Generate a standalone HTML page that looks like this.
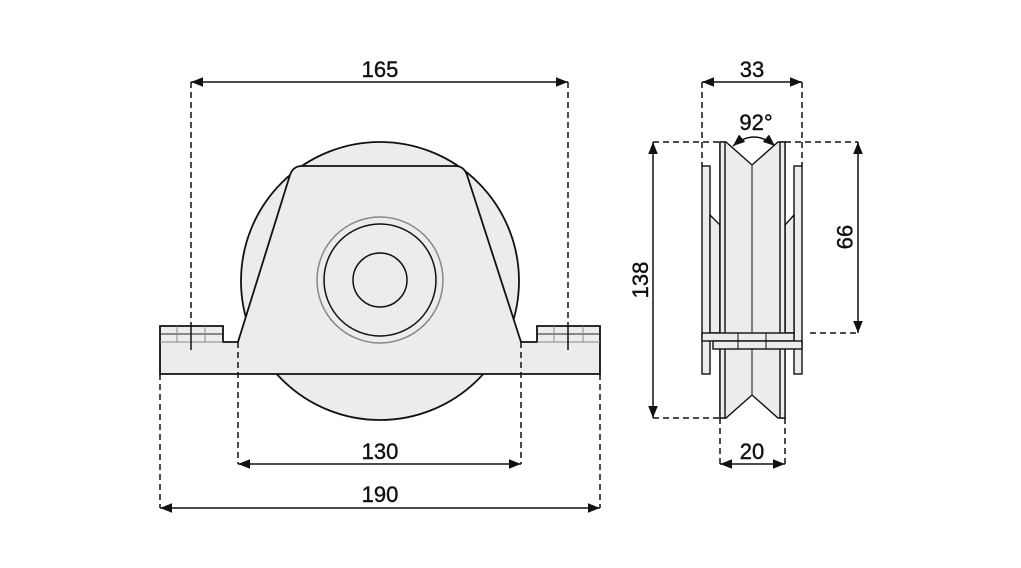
<!DOCTYPE html>
<html><head><meta charset="utf-8"><style>
html,body{margin:0;padding:0;background:#fff;}
svg{display:block;}
text{font-family:"Liberation Sans Narrow","Liberation Sans",sans-serif;font-size:22px;fill:#111;text-anchor:middle;stroke:#111;stroke-width:0.4;}
</style></head><body>
<svg width="1021" height="568" viewBox="0 0 1021 568" xmlns="http://www.w3.org/2000/svg">
<defs>
<marker id="a" viewBox="0 0 10 10" refX="10" refY="5" markerWidth="8" markerHeight="8" orient="auto-start-reverse"><path d="M0,1 L10,5 L0,9 z" fill="#111"/></marker>
</defs>
<g stroke="#111" stroke-width="1.8" fill="#ececec">
<circle cx="380" cy="281" r="139"/>
<path d="M160,326 H223 V342 H238 L290,175 Q293,166 302,166 H455 Q464,166 467,175 L521,342 H537 V326 H600 V374 H160 Z"/>
</g>
<g fill="none">
<line x1="160" y1="334" x2="223" y2="334" stroke="#222" stroke-width="1"/>
<line x1="537" y1="334" x2="600" y2="334" stroke="#222" stroke-width="1"/>
<line x1="160" y1="342" x2="223" y2="342" stroke="#888" stroke-width="1"/>
<line x1="537" y1="342" x2="600" y2="342" stroke="#888" stroke-width="1"/>
<g stroke="#888" stroke-width="1"><line x1="177" y1="326" x2="177" y2="342"/><line x1="205" y1="326" x2="205" y2="342"/><line x1="554" y1="326" x2="554" y2="342"/><line x1="583" y1="326" x2="583" y2="342"/></g>
<line x1="191" y1="326" x2="191" y2="350" stroke="#111" stroke-width="1.5"/>
<line x1="568" y1="326" x2="568" y2="350" stroke="#111" stroke-width="1.5"/>
<circle cx="380" cy="280" r="63" stroke="#888" stroke-width="1.5"/>
<circle cx="380" cy="280" r="56" stroke="#111" stroke-width="1.5"/>
<circle cx="380" cy="280" r="27" stroke="#111" stroke-width="1.5"/>
</g>
<g stroke="#111" stroke-width="1.5" stroke-dasharray="6,4" fill="none">
<line x1="191" y1="82" x2="191" y2="326"/><line x1="568" y1="82" x2="568" y2="326"/>
<line x1="238" y1="342" x2="238" y2="464"/><line x1="521" y1="342" x2="521" y2="464"/>
<line x1="160" y1="374" x2="160" y2="508"/><line x1="600" y1="374" x2="600" y2="508"/>
<line x1="702" y1="82" x2="702" y2="166"/><line x1="802" y1="82" x2="802" y2="166"/>
<line x1="653" y1="142" x2="720" y2="142"/><line x1="653" y1="418" x2="720" y2="418"/>
<line x1="785" y1="142" x2="858" y2="142"/><line x1="810" y1="333" x2="858" y2="333"/>
<line x1="720" y1="418" x2="720" y2="464"/><line x1="785" y1="418" x2="785" y2="464"/>
</g>
<g stroke="#111" stroke-width="1.5" fill="none" marker-start="url(#a)" marker-end="url(#a)">
<line x1="191" y1="82" x2="568" y2="82"/>
<line x1="238" y1="464" x2="521" y2="464"/>
<line x1="160" y1="508" x2="600" y2="508"/>
<line x1="702" y1="82" x2="802" y2="82"/>
<line x1="653" y1="142" x2="653" y2="418"/>
<line x1="858" y1="142" x2="858" y2="333"/>
<line x1="720" y1="464" x2="785" y2="464"/>
<path d="M733,146 Q754,128 775,146"/>
</g>
<g stroke="#111" stroke-width="1.4" fill="#ececec">
<rect x="702" y="166" width="8" height="208"/>
<rect x="794" y="166" width="8" height="208"/>
<path d="M710,215 L720,225 V333 H710 Z"/>
<path d="M794,215 L785,225 V333 H794 Z"/>
<path d="M720,142 H726 L752,165 L778,142 H785 V418 H778 L752,395 L726,418 H720 Z"/>
<rect x="720" y="142" width="5" height="276"/>
<rect x="780" y="142" width="5" height="276"/>
<line x1="752" y1="165" x2="752" y2="395" stroke-width="1"/>
<rect x="702" y="333" width="92" height="8"/>
<rect x="713" y="341" width="89" height="8"/>
<line x1="738" y1="333" x2="738" y2="349" stroke-width="1"/>
<line x1="766" y1="333" x2="766" y2="349" stroke-width="1"/>
</g>
<text x="380" y="77">165</text>
<text x="380" y="459">130</text>
<text x="380" y="502">190</text>
<text x="752" y="77">33</text>
<text x="752" y="459">20</text>
<text x="756" y="130">92°</text>
<text transform="translate(648,280) rotate(-90)">138</text>
<text transform="translate(837,237) rotate(90)">99</text>
</svg>
</body></html>
